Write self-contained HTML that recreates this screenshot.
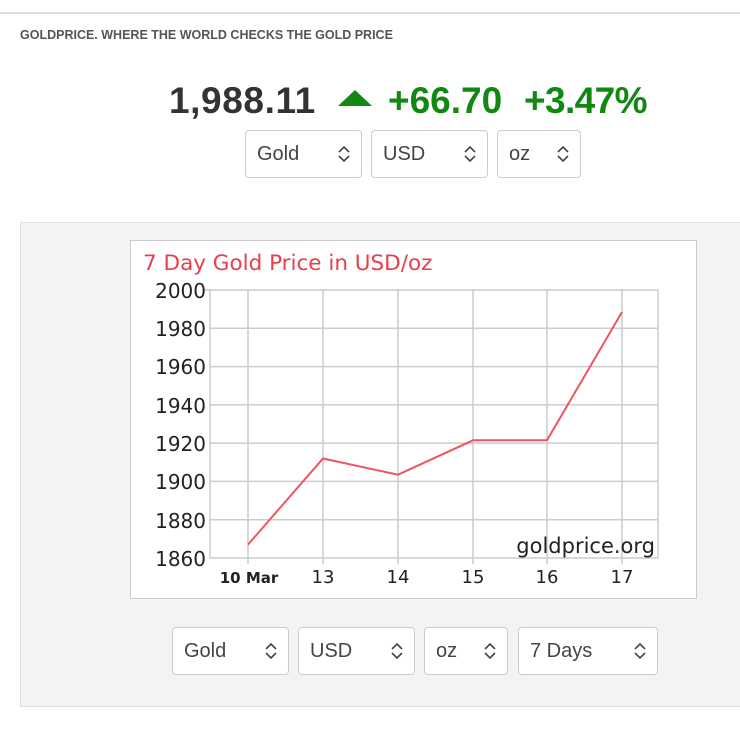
<!DOCTYPE html>
<html><head><meta charset="utf-8"><style>
body{margin:0;width:740px;height:740px;background:#fff;position:relative;overflow:hidden;font-family:"Liberation Sans",sans-serif}
.a{position:absolute}
.sel{position:absolute;height:48px;border:1px solid #ccc;border-radius:4px;background:#fff;box-sizing:border-box;font-size:20px;color:#444;line-height:46px;padding-left:11px}
</style></head><body>
<div class="a" style="left:0;top:12px;width:740px;height:2px;background:#ddd"></div>
<div class="a" style="left:20px;top:28px;font-size:12.5px;font-weight:bold;color:#555;letter-spacing:0px">GOLDPRICE. WHERE THE WORLD CHECKS THE GOLD PRICE</div>
<div class="a" style="left:169px;top:80px;font-size:37px;font-weight:bold;color:#333;letter-spacing:0.6px">1,988.11</div>
<svg class="a" style="left:336px;top:88px" width="38" height="20"><polygon points="2,18 19,2 36,18" fill="#118811"/></svg>
<div class="a" style="left:388px;top:80px;font-size:37px;font-weight:bold;color:#118811;letter-spacing:0px">+66.70</div>
<div class="a" style="left:524px;top:80px;font-size:37px;font-weight:bold;color:#118811;letter-spacing:-0.6px">+3.47%</div>
<div class="sel" style="left:245px;top:130px;width:117px">Gold</div>
<div class="sel" style="left:371px;top:130px;width:117px">USD</div>
<div class="sel" style="left:497px;top:130px;width:84px">oz</div>
<div class="a" style="left:20px;top:222px;width:730px;height:483px;background:#f3f3f3;border:1px solid #e0e0e0"></div>
<div class="a" style="left:130px;top:240px;width:565px;height:357px;background:#fff;border:1px solid #ccc"></div>
<svg class="a" style="left:0;top:0" width="740" height="740" font-family="DejaVu Sans,sans-serif">
<text x="143" y="270" font-size="21.5" fill="#e8404a">7 Day Gold Price in USD/oz</text>
<g stroke="#ccc" stroke-width="1.5" fill="none">
<rect x="210" y="290" width="448" height="268"/>
<line x1="210" y1="328.3" x2="658" y2="328.3"/><line x1="210" y1="366.6" x2="658" y2="366.6"/><line x1="210" y1="404.9" x2="658" y2="404.9"/><line x1="210" y1="443.1" x2="658" y2="443.1"/><line x1="210" y1="481.4" x2="658" y2="481.4"/><line x1="210" y1="519.7" x2="658" y2="519.7"/>
<line x1="248" y1="290" x2="248" y2="564"/><line x1="323" y1="290" x2="323" y2="564"/><line x1="398" y1="290" x2="398" y2="564"/><line x1="473" y1="290" x2="473" y2="564"/><line x1="547" y1="290" x2="547" y2="564"/><line x1="622" y1="290" x2="622" y2="564"/>
<line x1="204" y1="290" x2="210" y2="290"/>
</g>
<g font-size="20" fill="#222" text-anchor="end">
<text x="206" y="298">2000</text><text x="206" y="336">1980</text><text x="206" y="374">1960</text><text x="206" y="413">1940</text><text x="206" y="451">1920</text><text x="206" y="489">1900</text><text x="206" y="528">1880</text><text x="206" y="566">1860</text>
</g>
<g font-size="18" fill="#222" text-anchor="middle">
<text x="249" y="583" font-size="15" font-weight="bold">10 Mar</text><text x="323" y="583">13</text><text x="398" y="583">14</text><text x="473" y="583">15</text><text x="547" y="583">16</text><text x="622" y="583">17</text>
</g>
<text x="655" y="553" font-size="21" fill="#222" text-anchor="end">goldprice.org</text>
<polyline points="248,544.6 323,458.5 398,474.7 473,440.3 547,440.3 622,312" fill="none" stroke="#ee5560" stroke-width="2"/>
</svg>
<div class="sel" style="left:172px;top:627px;width:117px">Gold</div>
<div class="sel" style="left:298px;top:627px;width:117px">USD</div>
<div class="sel" style="left:424px;top:627px;width:84px">oz</div>
<div class="sel" style="left:518px;top:627px;width:140px">7 Days</div>
<svg class="a" style="left:0;top:0" width="740" height="740" fill="none" stroke="#444" stroke-width="1.6">
<defs><g id="c"><polyline points="-5,-2 0,-7 5,-2"/><polyline points="-5,2 0,7 5,2"/></g></defs>
<use href="#c" x="344" y="154"/><use href="#c" x="470" y="154"/><use href="#c" x="563" y="154"/>
<use href="#c" x="271" y="651"/><use href="#c" x="397" y="651"/><use href="#c" x="490" y="651"/><use href="#c" x="640" y="651"/>
</svg>
</body></html>
